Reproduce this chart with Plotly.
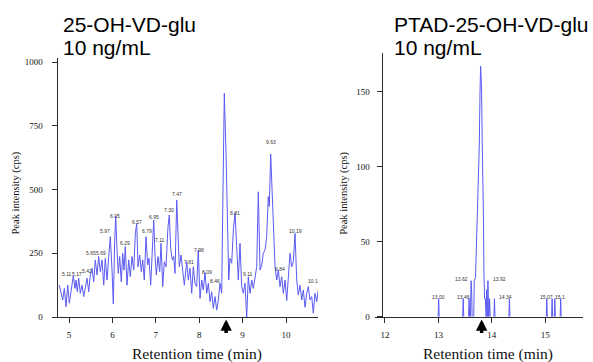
import plotly.graph_objects as go

W, H = 593, 362

# ---------------- Left panel: 25-OH-VD-glu ----------------
left_time = [4.776, 4.816, 4.855, 4.892, 4.931, 4.970, 5.007, 5.046, 5.099, 5.138,
             5.161, 5.191, 5.223, 5.260, 5.300, 5.339, 5.376, 5.415, 5.454, 5.491,
             5.530, 5.569, 5.606, 5.645, 5.684, 5.721, 5.760, 5.800, 5.836, 5.876,
             5.915, 5.952, 5.991, 6.021, 6.053, 6.076, 6.106, 6.136, 6.168, 6.205,
             6.237, 6.267, 6.297, 6.336, 6.376, 6.412, 6.452, 6.491, 6.528, 6.560,
             6.590, 6.629, 6.666, 6.698, 6.735, 6.774, 6.813, 6.843, 6.882, 6.919,
             6.952, 6.982, 7.012, 7.051, 7.090, 7.120, 7.159, 7.196, 7.235, 7.281,
             7.311, 7.343, 7.380, 7.412, 7.442, 7.482, 7.512, 7.541, 7.581, 7.620,
             7.657, 7.712, 7.749, 7.788, 7.827, 7.864, 7.903, 7.942, 7.979, 8.018,
             8.058, 8.094, 8.134, 8.173, 8.210, 8.249, 8.288, 8.325, 8.364, 8.403,
             8.440, 8.479, 8.518, 8.541, 8.578, 8.618, 8.648, 8.680, 8.710, 8.749,
             8.786, 8.825, 8.864, 8.901, 8.940, 8.979, 9.016, 9.055, 9.094, 9.131,
             9.171, 9.210, 9.246, 9.286, 9.325, 9.362, 9.401, 9.440, 9.477, 9.516,
             9.555, 9.592, 9.615, 9.647, 9.677, 9.707, 9.747, 9.786, 9.823, 9.862,
             9.901, 9.938, 9.977, 10.016, 10.053, 10.092, 10.131, 10.168, 10.207, 10.247,
             10.283, 10.323, 10.362, 10.399, 10.438, 10.477, 10.514, 10.553, 10.592, 10.629,
             10.668, 10.707, 10.744]
left_intensity = [125, 99, 67, 112, 40, 125, 54, 99, 161, 112,
                  145, 99, 152, 93, 125, 80, 125, 152, 99, 165,
                  191, 138, 224, 165, 237, 178, 224, 125, 230, 145,
                  237, 315, 184, 51, 302, 396, 263, 171, 237, 138,
                  250, 184, 276, 125, 224, 158, 237, 184, 328, 367,
                  197, 243, 178, 224, 145, 315, 204, 230, 125, 302,
                  380, 237, 165, 237, 178, 289, 119, 217, 197, 354,
                  400, 269, 224, 237, 171, 459, 289, 197, 243, 165,
                  125, 217, 145, 191, 93, 197, 132, 119, 263, 73,
                  145, 106, 174, 93, 132, 60, 99, 34, 80, 27,
                  67, 132, 93, 407, 877, 642, 380, 145, 230, 211,
                  341, 407, 276, 145, 289, 119, 93, 132, 0, 158,
                  93, 145, 112, 158, 197, 491, 184, 204, 250, 263,
                  315, 472, 433, 639, 498, 341, 197, 145, 184, 119,
                  158, 93, 145, 64, 171, 250, 197, 217, 328, 145,
                  86, 125, 67, 106, 38, 93, 119, 67, 80, 15,
                  93, 60, 106]

left_peak_labels = ["5.11", "5.17", "5.42", "5.65", "5.69", "5.97", "6.05", "6.29",
                    "6.57", "6.79", "6.95", "7.11", "7.30", "7.47", "7.81", "7.98",
                    "8.09", "8.46", "8.81", "9.11", "9.63", "9.84", "10.19", "10.1"]
left_label_time = [4.954, 5.177, 5.415, 5.514, 5.730, 5.829, 6.067, 6.297,
                   6.567, 6.790, 6.952, 7.104, 7.297, 7.482, 7.772, 7.995,
                   8.180, 8.364, 8.825, 9.118, 9.647, 9.862, 10.207, 10.629]
left_label_height = [167, 167, 180, 252, 252, 337, 396, 289,
                     373, 337, 393, 302, 420, 481, 215, 263,
                     176, 141, 407, 167, 686, 189, 337, 141]

left_xticks = [5, 6, 7, 8, 9, 10]
left_yticks = [0, 250, 500, 750, 1000]
left_arrow_time = 8.62

# ---------------- Right panel: PTAD-25-OH-VD-glu ----------------
# (None separates the individual signal spikes; signal is zero in between)
right_time = [12.995, 13.005, 13.015, None,
              13.455, 13.465, 13.475, None,
              13.565, 13.575, 13.585, None,
              13.600, 13.612, 13.622, 13.632, None,
              13.662, 13.672, 13.695, 13.722, 13.745, 13.765, 13.780, 13.790, 13.800,
              13.810, 13.820, 13.835, 13.845, 13.852, 13.865, 13.880, 13.892, None,
              13.895, 13.903, 13.913, None,
              13.920, 13.928, 13.940, None,
              13.950, 13.958, 13.970, None,
              14.040, 14.050, 14.060, None,
              14.320, 14.330, 14.340, None,
              15.020, 15.030, 15.040, None,
              15.120, 15.130, 15.140, None,
              15.170, 15.180, 15.190, None,
              15.280, 15.290, 15.300]
right_intensity = [0, 12, 0, None,
                   0, 12, 0, None,
                   0, 12, 0, None,
                   0, 24, 18, 0, None,
                   0, 24, 26, 58, 77, 113, 150, 167, 160,
                   149, 118, 96, 64, 31, 12, 12, 0, None,
                   0, 18, 0, None,
                   0, 24, 0, None,
                   0, 12, 0, None,
                   0, 12, 0, None,
                   0, 12, 0, None,
                   0, 12, 0, None,
                   0, 12, 0, None,
                   0, 12, 0, None,
                   0, 12, 0]

right_peak_labels = ["13.00", "13.46", "13.62", "13.92", "14.34", "15.07", "15.1"]
right_label_time = [13.011, 13.466, 13.436, 14.141, 14.260, 15.028, 15.270]
right_label_height = [13.3, 13.3, 24.9, 24.9, 13.3, 13.3, 13.3]

right_xticks = [12, 13, 14, 15]
right_yticks = [0, 50, 100, 150]
right_arrow_time = 13.81

# ---------------- Styling ----------------
SERIF = "Liberation Serif, Times New Roman, serif"
SANS = "Liberation Sans, Arial, sans-serif"
LINE_BLUE = "#5a5af2"
AXIS_COL = "#2a2a2a"

fig = go.Figure()
fig.add_trace(go.Scatter(x=left_time, y=left_intensity, mode="lines",
                         line=dict(color=LINE_BLUE, width=1), xaxis="x", yaxis="y",
                         showlegend=False, hoverinfo="skip"))
fig.add_trace(go.Scatter(x=right_time, y=right_intensity, mode="lines",
                         line=dict(color=LINE_BLUE, width=1), xaxis="x2", yaxis="y2",
                         connectgaps=False, showlegend=False, hoverinfo="skip"))

def px_x(p):
    return p / W

def px_y(p):
    return 1 - p / H

axis_common = dict(showline=True, linecolor=AXIS_COL, linewidth=1.2, ticks="outside",
                   ticklen=5, tickwidth=1, tickcolor=AXIS_COL, showgrid=False,
                   zeroline=False, tickfont=dict(family=SERIF, size=9, color="#111"),
                   fixedrange=True, automargin=False)

fig.update_layout(
    width=W, height=H, autosize=False, margin=dict(l=0, r=0, t=0, b=0, pad=0),
    paper_bgcolor="white", plot_bgcolor="rgba(0,0,0,0)", showlegend=False,
    xaxis=dict(domain=[px_x(52), px_x(318)], range=[4.608, 10.737], anchor="y",
               tickvals=left_xticks, ticktext=[str(v) for v in left_xticks],
               ticklabelstandoff=4, **axis_common),
    yaxis=dict(domain=[px_y(317), px_y(58)], range=[0, 1015.7], anchor="free",
               position=px_x(56.7), tickvals=left_yticks,
               ticktext=[str(v) for v in left_yticks], ticklabelstandoff=7, **axis_common),
    xaxis2=dict(domain=[px_x(375), px_x(583)], range=[11.813, 15.708], anchor="y2",
                tickvals=right_xticks, ticktext=[str(v) for v in right_xticks],
                ticklabelstandoff=4, **axis_common),
    yaxis2=dict(domain=[px_y(316.7), px_y(53)], range=[0, 175.8], anchor="free",
                position=px_x(381.7), tickvals=right_yticks,
                ticktext=[str(v) for v in right_yticks], ticklabelstandoff=5, **axis_common),
)

ann = []
# Titles
for txt, xp, yp in [("25-OH-VD-glu", 61, 25), ("10 ng/mL", 61, 47.5),
                    ("PTAD-25-OH-VD-glu", 392, 25), ("10 ng/mL", 392, 47.5)]:
    ann.append(dict(text=txt, x=px_x(xp), y=px_y(yp), xref="paper", yref="paper",
                    xanchor="left", yanchor="middle", showarrow=False,
                    font=dict(family=SANS, size=21, color="black")))
# Axis titles
for xp in [197.2, 488.3]:
    ann.append(dict(text="Retention time (min)", x=px_x(xp), y=px_y(354), xref="paper",
                    yref="paper", xanchor="center", yanchor="middle", showarrow=False,
                    font=dict(family=SERIF, size=15.5, color="#111")))
for xp in [15, 343.3]:
    ann.append(dict(text="Peak intensity (cps)", x=px_x(xp), y=px_y(193.5), xref="paper",
                    yref="paper", xanchor="center", yanchor="middle", showarrow=False,
                    textangle=-90, font=dict(family=SERIF, size=10.5, color="#111")))
# Peak labels
for t, xv, yv in zip(left_peak_labels, left_label_time, left_label_height):
    ann.append(dict(text=t, x=xv, y=yv, xref="x", yref="y", showarrow=False,
                    xanchor="center", yanchor="middle",
                    font=dict(family=SANS, size=5, color="#333")))
for t, xv, yv in zip(right_peak_labels, right_label_time, right_label_height):
    ann.append(dict(text=t, x=xv, y=yv, xref="x2", yref="y2", showarrow=False,
                    xanchor="center", yanchor="middle",
                    font=dict(family=SANS, size=5, color="#333")))
# Arrows
for xv, xr in [(left_arrow_time, "x"), (right_arrow_time, "x2")]:
    ann.append(dict(text="", x=xv, y=px_y(319.5), xref=xr, yref="paper",
                    showarrow=True, ax=0, ay=15, arrowhead=2, arrowsize=0.65,
                    arrowwidth=3.5, arrowcolor="black", standoff=0, startstandoff=0))

fig.update_layout(annotations=ann)

fig.write_html("out.html",
               config={"displayModeBar": False, "responsive": False},
               post_script="document.body.style.margin='0';document.body.style.padding='0';")
